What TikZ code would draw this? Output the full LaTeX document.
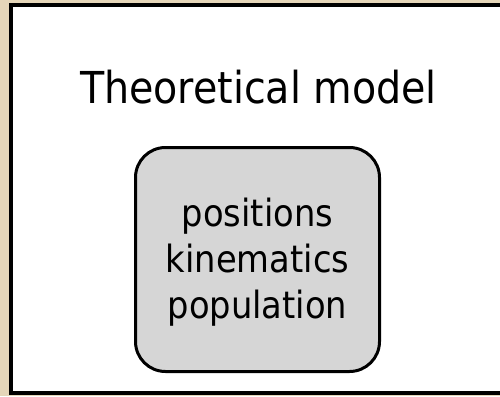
\documentclass[tikz,border=0pt]{standalone}
\usepackage{fontspec}
\setmainfont{DejaVu Sans Condensed}
\definecolor{tanbg}{RGB}{229,214,185}
\definecolor{boxgray}{RGB}{214,214,214}
\tikzset{
  frame/.style={draw=black, line width=4pt, fill=white},
  modelbox/.style={draw=black, line width=3pt, fill=boxgray, rounded corners=30pt,
    minimum width=244pt, minimum height=224pt, inner sep=0pt},
  titletext/.style={font=\fontsize{44}{52}\selectfont, inner sep=0pt, anchor=base},
  boxtext/.style={font=\fontsize{37.5}{46}\selectfont, align=center, inner sep=0pt}
}
\begin{document}
\begin{tikzpicture}[x=1pt,y=-1pt]
\useasboundingbox (0,0) rectangle (500,396);
\fill[tanbg] (0,0) rectangle (500,396);
\begin{scope}
\clip (0,0) rectangle (500,396);
\draw[frame] (11,5) rectangle (530,393);
\end{scope}
\node[titletext] (title) at (258.5,103) {Theoretical model};
\node[modelbox] (box) at (257.5,259.5) {};
\node[boxtext] (content) at (257.5,262) {positions\\kinematics\\population};
\end{tikzpicture}
\end{document}
